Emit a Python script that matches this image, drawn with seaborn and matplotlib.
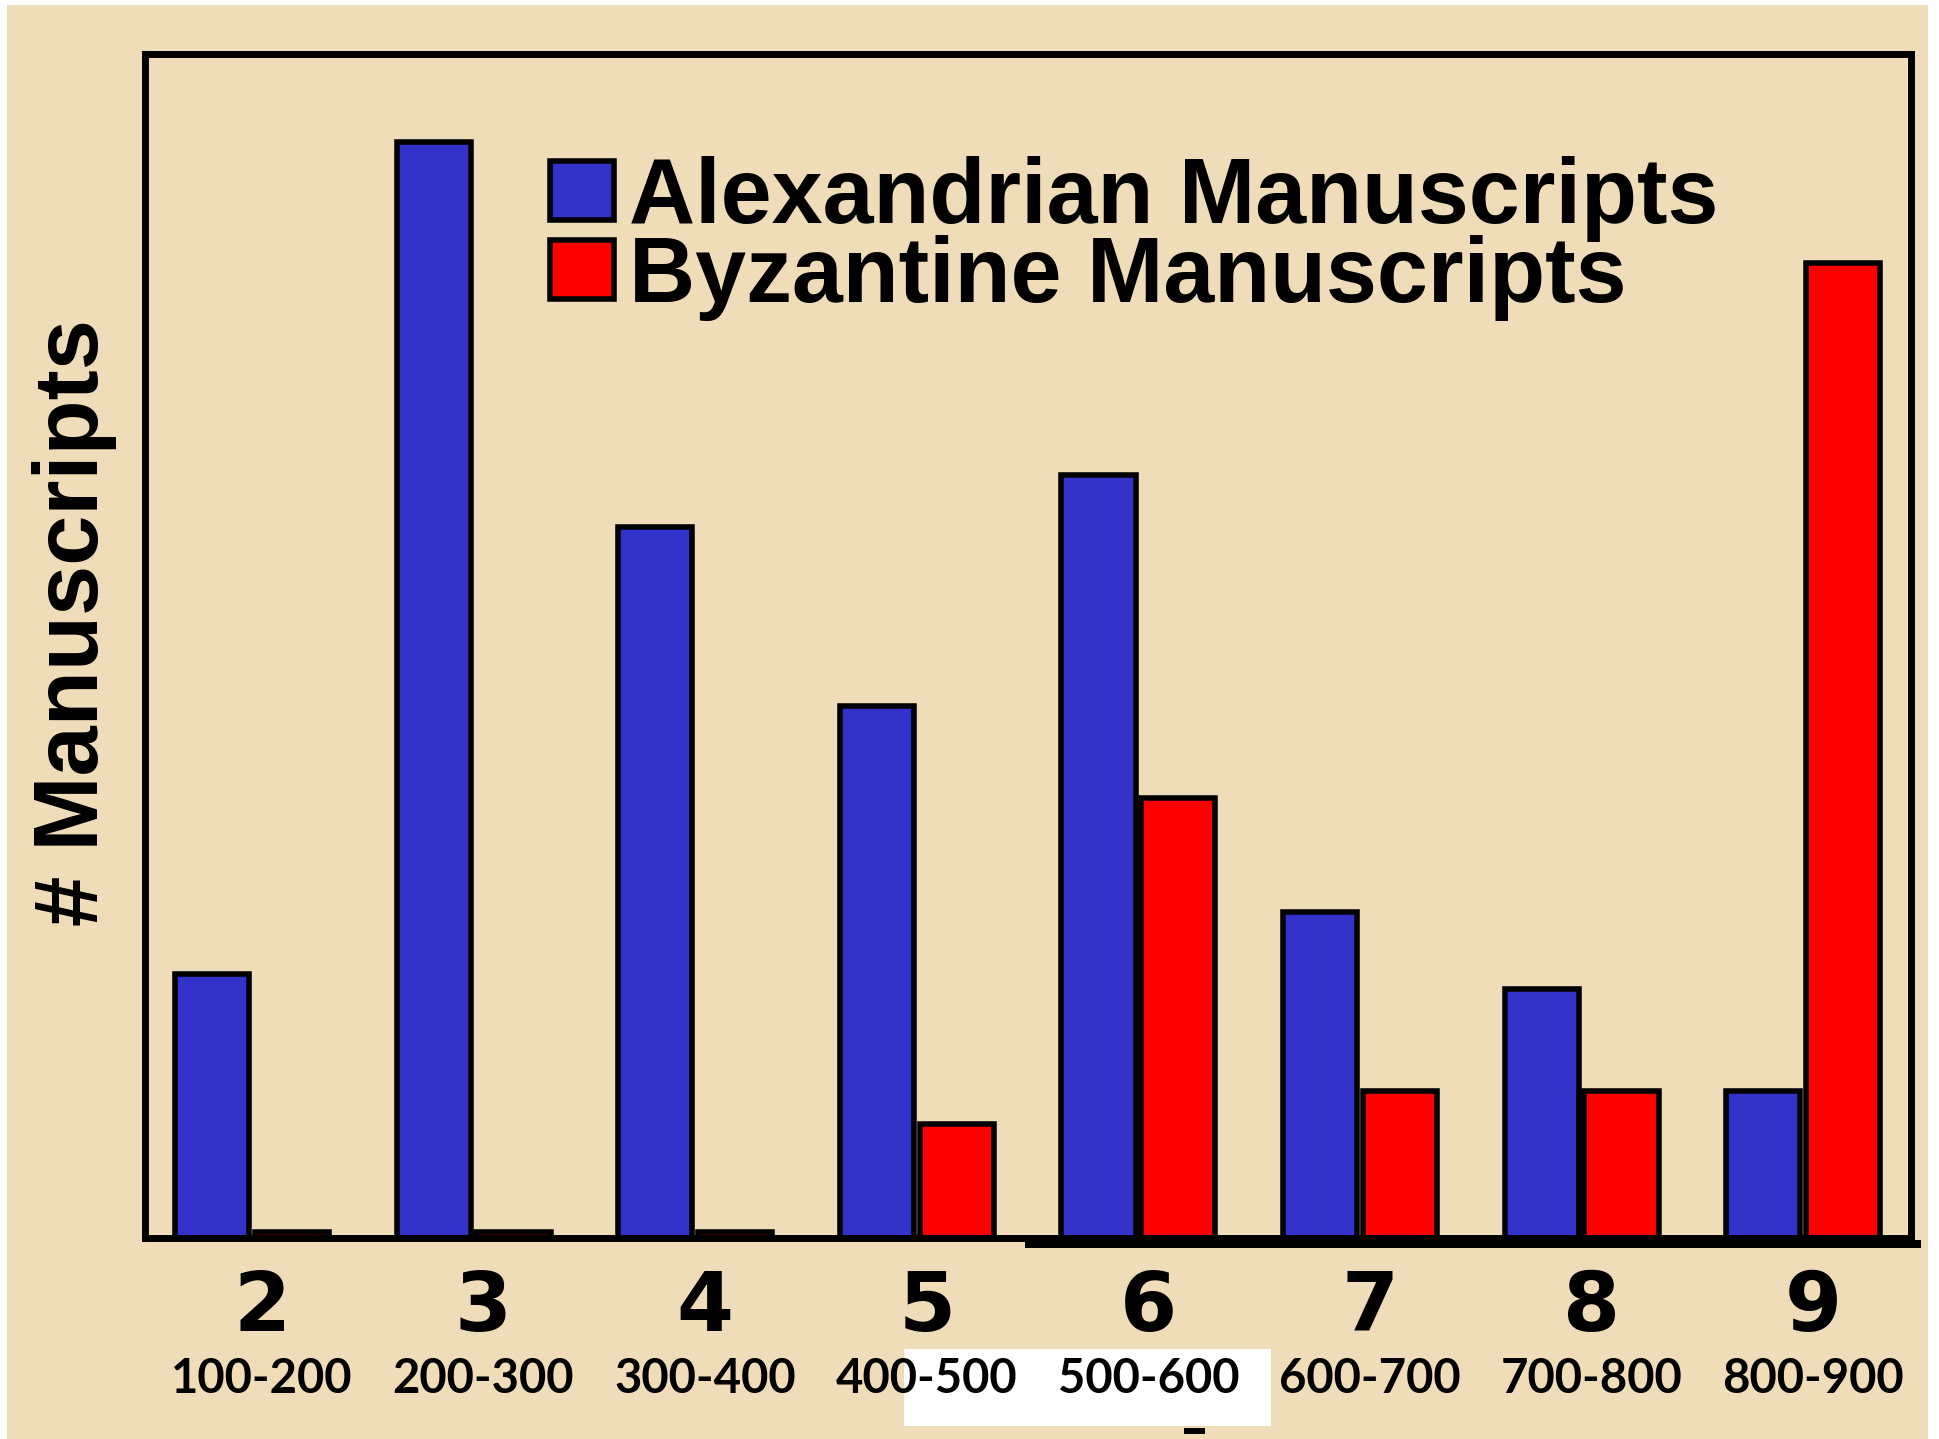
import numpy as np
import pandas as pd
import matplotlib
matplotlib.use("Agg")
import matplotlib.pyplot as plt
from matplotlib import font_manager as fm
from matplotlib.patches import Rectangle
import seaborn as sns

# ---- data ----
centuries = ['2', '3', '4', '5', '6', '7', '8', '9']
year_ranges = ['100-200', '200-300', '300-400', '400-500',
               '500-600', '600-700', '700-800', '800-900']
alexandrian = [7.2, 29.9, 19.4, 14.5, 20.8, 8.9, 6.8, 4.0]
byzantine = [0.16, 0.16, 0.16, 3.1, 12.0, 4.0, 4.0, 26.6]
series_names = ['Alexandrian Manuscripts', 'Byzantine Manuscripts']

df = pd.DataFrame({
    'century': centuries * 2,
    'count': alexandrian + byzantine,
    'type': [series_names[0]] * len(centuries) + [series_names[1]] * len(centuries),
})

# ---- fonts ----
def pick_family(cands):
    for c in cands:
        try:
            fm.findfont(fm.FontProperties(family=c, weight='bold'), fallback_to_default=False)
            return c
        except Exception:
            continue
    return 'DejaVu Sans'

narrow = pick_family(['Liberation Sans Narrow', 'Liberation Sans'])
BLUE = '#3333CC'
RED = '#FF0000'
PARCH = '#EEDDB8'

sns.set_style('white')
plt.rcParams['font.family'] = ['DejaVu Sans']
plt.rcParams['text.color'] = 'black'
plt.rcParams['axes.labelcolor'] = 'black'
plt.rcParams['xtick.color'] = 'black'
plt.rcParams['ytick.color'] = 'black'

W, H = 1940, 1439
fig = plt.figure(figsize=(W / 100, H / 100), dpi=100, facecolor='white')

def fx(px):
    return px / W

def fy(py):
    return 1 - py / H

# background parchment and decorations
fig.patches.append(Rectangle((fx(7), 0), fx(1928) - fx(7), fy(5), transform=fig.transFigure,
                             facecolor=PARCH, edgecolor='none', zorder=-10))
fig.patches.append(Rectangle((fx(904), fy(1426)), fx(1271) - fx(904), fy(1349) - fy(1426),
                             transform=fig.transFigure, facecolor='white', edgecolor='none', zorder=-5))
fig.patches.append(Rectangle((fx(1184), fy(1434)), fx(1205) - fx(1184), fy(1428) - fy(1434),
                             transform=fig.transFigure, facecolor='black', edgecolor='none', zorder=-4))

left, right, top, bottom = 145.5, 1911, 53.5, 1238
ax = fig.add_axes([fx(left), fy(bottom), fx(right) - fx(left), fy(top) - fy(bottom)])
ax.set_facecolor('none')

sns.barplot(data=df, x='century', y='count', hue='type', palette=[BLUE, RED],
            width=0.72, gap=0.07, edgecolor='black', linewidth=4, saturation=1,
            ax=ax, legend=True)

ax.set_ylim(0, 32.3)
ax.set_xlim(-0.48, 7.486)
ax.set_yticks([])
for s in ax.spines.values():
    s.set_visible(True)
    s.set_color('black')
    s.set_linewidth(5)

# x tick labels: century digits (major) and year ranges (minor)
pos = np.arange(len(centuries)) + 0.045
ax.xaxis.remove_overlapping_locs = False
ax.set_xticks(pos, labels=centuries)
ax.set_xticks(pos, labels=year_ranges, minor=True)
ax.tick_params(axis='x', which='major', length=0, pad=22, labelsize=59, labelcolor='black')
ax.tick_params(axis='x', which='minor', length=0, pad=86, labelsize=34, labelcolor='black')
for t in ax.get_xticklabels():
    t.set_fontweight('bold')
    t.set_fontfamily(['DejaVu Sans'])
for t in ax.get_xticklabels(minor=True):
    t.set_fontweight('bold')
    t.set_fontfamily(['Lato', 'DejaVu Sans'])

ax.set_xlabel('')
ax.set_ylabel('# Manuscripts', fontsize=65, fontweight='bold', color='black',
              family=[narrow, 'DejaVu Sans'])
ax.yaxis.set_label_coords(-0.016, 1 - (622 - top) / (bottom - top))

# legend
handles, labels = ax.get_legend_handles_labels()
for h in handles:
    h.set_edgecolor('black')
    h.set_linewidth(4)
leg = ax.legend(handles, labels, loc='upper left', bbox_to_anchor=(fx(550), fy(156)),
                bbox_transform=fig.transFigure, frameon=False,
                prop=fm.FontProperties(family=[narrow, 'DejaVu Sans'], weight='bold', size=66),
                handlelength=0.70, handleheight=0.62, handletextpad=0.16,
                labelspacing=-0.08, borderpad=0, borderaxespad=0)
for t in leg.get_texts():
    t.set_color('black')

# thicker segment of the bottom axis line on the right
fig.patches.append(Rectangle((fx(1025), fy(1248)), fx(1921) - fx(1025), fy(1240) - fy(1248),
                             transform=fig.transFigure, facecolor='black', edgecolor='none', zorder=5))

fig.savefig('out.png', dpi=100, facecolor=fig.get_facecolor())
